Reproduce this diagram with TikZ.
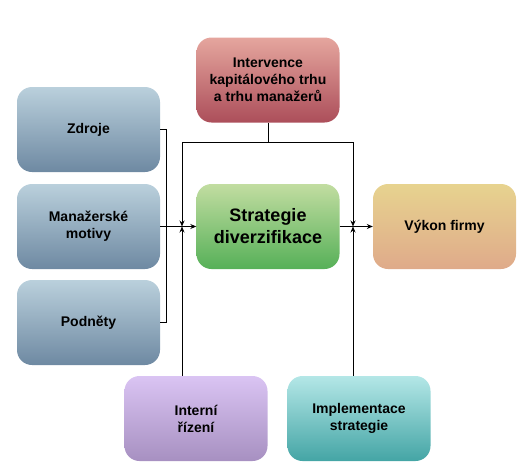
\documentclass[tikz,border=0pt]{standalone}
\usepackage{fontspec}
\setmainfont{Liberation Sans}
\usetikzlibrary{arrows.meta}
\begin{document}
\begin{tikzpicture}[x=1pt, y=-1pt,
    every node/.style={font=\bfseries\fontsize{14}{17}\selectfont, align=center},
    block/.style={rounded corners=15pt, minimum width=143pt, minimum height=85pt, inner sep=2pt},
    link/.style={line width=0.9pt, black},
    arr/.style={link, -{Stealth[length=6pt, width=5pt]}}]
    \useasboundingbox (0,0) rectangle (522,474);
    % Left inputs
    \node[block, top color={rgb,255:red,186;green,208;blue,220}, bottom color={rgb,255:red,110;green,137;blue,162}]
        (zdroje) at (88.5,129.5) {Zdroje};
    \node[block, top color={rgb,255:red,186;green,208;blue,220}, bottom color={rgb,255:red,110;green,137;blue,162}]
        (motivy) at (88.5,226.5) {Manažerské\\motivy};
    \node[block, top color={rgb,255:red,186;green,208;blue,220}, bottom color={rgb,255:red,110;green,137;blue,162}]
        (podnety) at (88.5,322.5) {Podněty};
    % Middle column
    \node[block, top color={rgb,255:red,229;green,166;blue,158}, bottom color={rgb,255:red,172;green,78;blue,90}]
        (intervence) at (268,80) {Intervence\\kapitálového trhu\\a trhu manažerů};
    \node[block, top color={rgb,255:red,194;green,221;blue,161}, bottom color={rgb,255:red,86;green,176;blue,88},
        font=\bfseries\fontsize{18}{22}\selectfont]
        (strategie) at (268,226.5) {Strategie\\diverzifikace};
    \node[block, top color={rgb,255:red,231;green,211;blue,143}, bottom color={rgb,255:red,223;green,170;blue,138}]
        (vykon) at (444.5,226.5) {Výkon firmy};
    % Bottom boxes
    \node[block, top color={rgb,255:red,218;green,196;blue,243}, bottom color={rgb,255:red,167;green,144;blue,193}]
        (interni) at (196,418.5) {Interní\\řízení};
    \node[block, top color={rgb,255:red,180;green,231;blue,231}, bottom color={rgb,255:red,68;green,165;blue,165}]
        (implementace) at (359,418.5) {Implementace\\strategie};
    % Junction points
    \coordinate (topmid) at (268,142);
    \coordinate (topleft) at (182,142);
    \coordinate (topright) at (353,142);
    \coordinate (jleft) at (182,226.5);
    \coordinate (jright) at (353,226.5);
    % Connectors
    \draw[link] (zdroje.east) -- ++(6,0) |- (podnety.east);
    \draw[arr] (motivy.east) -- (strategie.west);
    \draw[arr] (strategie.east) -- (vykon.west);
    \draw[link] (intervence.south) -- (topmid);
    \draw[link] (topleft) -- (topright);
    \draw[arr] (topleft) -- (jleft);
    \draw[arr] (topright) -- (jright);
    \draw[arr] (interni.north -| jleft) -- (jleft);
    \draw[arr] (implementace.north -| jright) -- (jright);
\end{tikzpicture}
\end{document}
